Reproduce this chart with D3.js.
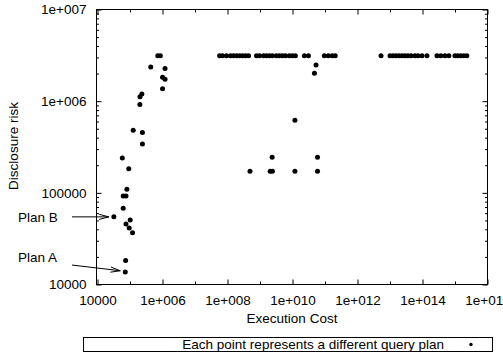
<!DOCTYPE html>
<html><head><meta charset="utf-8">
<script src="https://cdn.jsdelivr.net/npm/d3@7"></script>
<style>html,body{margin:0;padding:0;background:#fff;overflow:hidden}svg{display:block}</style>
</head><body><svg id="c" width="503" height="360"></svg>
<script>
// ---- data ----
const planCost = [
  // low-cost plans
  7.4e5, 8.9e5, 4.5e5, 1.24e6, 1.04e6, 1.24e6, 1.04e6, 2.4e5, 2.1e5, 2.08e5,
  1.3e5, 2.5e5, 2.5e5, 6.0e4, 9.5e4, 8.3e4, 6.4e4, 7.8e4, 6.4e4, 3.3e4,
  1.05e5, 7.8e4, 9.8e4, 1.24e5, 7.6e4, 7.4e4,
  // mid plans
  5.5e10, 4.9e10, 1.23e10, 2.45e9, 6.1e10, 5.1e8, 2.13e9, 2.5e9, 1.23e10, 6.1e10,
  // top row
  5.93e7, 7.33e7, 9.7e7, 1.29e8, 1.59e8, 1.97e8, 2.44e8, 3.01e8, 3.72e8, 4.6e8,
  8.1e8, 1.0e9, 1.33e9, 1.64e9, 2.03e9, 2.5e9, 3.3e9, 4.1e9, 5.1e9, 6.3e9,
  8.3e9, 1.03e10, 1.27e10, 2.4e10, 3.2e10, 9.9e10, 1.31e11, 1.73e11, 2.14e11,
  5.5e12, 1.04e13, 1.29e13, 1.59e13, 1.97e13, 2.44e13, 3.0e13, 3.7e13, 4.6e13, 6.1e13,
  7.5e13, 1.0e14, 1.42e14, 2.9e14, 3.8e14, 5.1e14, 6.7e14, 1.03e15, 1.27e15, 1.57e15,
  1.94e15, 2.4e15
];
const planRisk = [
  3.1e6, 3.1e6, 2.33e6, 2.25e6, 1.8e6, 1.71e6, 1.35e6, 1.18e6, 1.1e6, 9.1e5,
  4.75e5, 4.5e5, 3.37e5, 2.37e5, 1.81e5, 1.08e5, 9.1e4, 9.1e4, 6.7e4, 5.4e4,
  5.0e4, 4.5e4, 4.07e4, 3.63e4, 1.8e4, 1.35e4,
  2.45e6, 1.99e6, 6.1e5, 2.42e5, 2.42e5, 1.7e5, 1.7e5, 1.7e5, 1.7e5, 1.7e5,
  3.1e6, 3.1e6, 3.1e6, 3.1e6, 3.1e6, 3.1e6, 3.1e6, 3.1e6, 3.1e6, 3.1e6,
  3.1e6, 3.1e6, 3.1e6, 3.1e6, 3.1e6, 3.1e6, 3.1e6, 3.1e6, 3.1e6, 3.1e6,
  3.1e6, 3.1e6, 3.1e6, 3.1e6, 3.1e6, 3.1e6, 3.1e6, 3.1e6, 3.1e6,
  3.1e6, 3.1e6, 3.1e6, 3.1e6, 3.1e6, 3.1e6, 3.1e6, 3.1e6, 3.1e6, 3.1e6,
  3.1e6, 3.1e6, 3.1e6, 3.1e6, 3.1e6, 3.1e6, 3.1e6, 3.1e6, 3.1e6, 3.1e6,
  3.1e6, 3.1e6
];
const xTickValues = [1e4, 1e6, 1e8, 1e10, 1e12, 1e14, 1e16];
const xTickLabels = ["10000", "1e+006", "1e+008", "1e+010", "1e+012", "1e+014", "1e+016"];
const xMinorValues = [1e5, 1e7, 1e9, 1e11, 1e13, 1e15];
const yTickValues = [1e4, 1e5, 1e6, 1e7];
const yTickLabels = ["10000", "100000", "1e+006", "1e+007"];
const annotations = [
  {label: "Plan B", index: 19},
  {label: "Plan A", index: 25}
];
const xTitle = "Execution Cost";
const yTitle = "Disclosure risk";
const legendText = "Each point represents a different query plan";

// ---- drawing ----
const FONT = "'Liberation Sans', Arial, Helvetica, sans-serif";
const FS = 13.5;
const L = 97, R = 487, T = 9, B = 284;
const svg = d3.select("#c");
const x = d3.scaleLog().domain([1e4, 1e16]).range([L, R]);
const y = d3.scaleLog().domain([1e4, 1e7]).range([B, T]);

const yMinor = [];
[1e4, 1e5, 1e6].forEach(d => { for (let k = 2; k <= 9; k++) yMinor.push(d * k); });

function styleAxis(g, showLabels) {
  g.select(".domain").remove();
  g.selectAll("line").attr("stroke", "#000").attr("stroke-width", 1);
  g.selectAll("text").attr("font-family", FONT).attr("font-size", FS).attr("fill", "#000");
  if (!showLabels) g.selectAll("text").remove();
}

// bottom axis
const bottomMajor = svg.append("g").attr("transform", `translate(0.5,${B + 0.5})`)
  .call(d3.axisBottom(x).tickValues(xTickValues).tickSize(-5).tickPadding(8)
    .tickFormat((d, i) => xTickLabels[i]));
styleAxis(bottomMajor, true);
bottomMajor.selectAll("text").attr("dy", "0.95em");
const bottomMinor = svg.append("g").attr("transform", `translate(0.5,${B + 0.5})`)
  .call(d3.axisBottom(x).tickValues(xMinorValues).tickSize(-3).tickFormat(""));
styleAxis(bottomMinor, false);
// top mirror
const topMajor = svg.append("g").attr("transform", `translate(0.5,${T + 0.5})`)
  .call(d3.axisTop(x).tickValues(xTickValues).tickSize(-5).tickFormat(""));
styleAxis(topMajor, false);
const topMinor = svg.append("g").attr("transform", `translate(0.5,${T + 0.5})`)
  .call(d3.axisTop(x).tickValues(xMinorValues).tickSize(-3).tickFormat(""));
styleAxis(topMinor, false);

// left axis
const leftMajor = svg.append("g").attr("transform", `translate(${L - 0.5},0.5)`)
  .call(d3.axisLeft(y).tickValues(yTickValues).tickSize(-5).tickPadding(10)
    .tickFormat((d, i) => yTickLabels[i]));
styleAxis(leftMajor, true);
const leftMinor = svg.append("g").attr("transform", `translate(${L - 0.5},0.5)`)
  .call(d3.axisLeft(y).tickValues(yMinor).tickSize(-2.5).tickFormat(""));
styleAxis(leftMinor, false);
// right mirror
const rightMajor = svg.append("g").attr("transform", `translate(${R + 0.5},0.5)`)
  .call(d3.axisRight(y).tickValues(yTickValues).tickSize(-5).tickFormat(""));
styleAxis(rightMajor, false);
const rightMinor = svg.append("g").attr("transform", `translate(${R + 0.5},0.5)`)
  .call(d3.axisRight(y).tickValues(yMinor).tickSize(-2.5).tickFormat(""));
styleAxis(rightMinor, false);

// border
svg.append("rect").attr("x", L - 0.5).attr("y", T + 0.5).attr("width", R - L + 1).attr("height", B - T)
  .attr("fill", "none").attr("stroke", "#000").attr("stroke-width", 1);

// titles
svg.append("text").attr("x", (L + R) / 2).attr("y", 323).attr("text-anchor", "middle")
  .attr("font-family", FONT).attr("font-size", FS).text(xTitle);
svg.append("text").attr("transform", `translate(18,146) rotate(-90)`).attr("text-anchor", "middle")
  .attr("font-family", FONT).attr("font-size", FS).text(yTitle);

// points
const pts = planCost.map((c, i) => ({c, r: planRisk[i]}));
svg.append("g").selectAll("circle").data(pts).join("circle")
  .attr("cx", d => x(d.c)).attr("cy", d => y(d.r)).attr("r", 2.5).attr("fill", "#000");

// annotations
const anchorX = 18;
annotations.forEach(a => {
  const px = x(planCost[a.index]), py = y(planRisk[a.index]);
  const tx = anchorX;
  const ty = a.label === "Plan B" ? py : py - 15;
  svg.append("text").attr("x", tx).attr("y", ty + 5).attr("font-family", FONT).attr("font-size", FS)
    .text(a.label);
  const x0 = 72, y0 = a.label === "Plan B" ? py : py - 7;
  const x1 = px - 5, y1 = py - (a.label === "Plan B" ? 0 : 1.3);
  svg.append("line").attr("x1", x0).attr("y1", y0).attr("x2", x1).attr("y2", y1)
    .attr("stroke", "#000").attr("stroke-width", 1);
  const ang = Math.atan2(y1 - y0, x1 - x0), len = 10, spread = 0.26;
  const p1 = [x1 - len * Math.cos(ang - spread), y1 - len * Math.sin(ang - spread)];
  const p2 = [x1 - len * Math.cos(ang + spread), y1 - len * Math.sin(ang + spread)];
  svg.append("path").attr("d", `M${p1[0]},${p1[1]}L${x1},${y1}L${p2[0]},${p2[1]}`)
    .attr("fill", "none").attr("stroke", "#000").attr("stroke-width", 1);
});

// legend
svg.append("rect").attr("x", 83.5).attr("y", 337.5).attr("width", 409).attr("height", 14)
  .attr("fill", "none").attr("stroke", "#000").attr("stroke-width", 1);
svg.append("text").attr("x", 444).attr("y", 349).attr("text-anchor", "end")
  .attr("font-family", FONT).attr("font-size", FS).text(legendText);
svg.append("circle").attr("cx", 471).attr("cy", 344.5).attr("r", 1.7).attr("fill", "#000");
</script>
</body></html>
